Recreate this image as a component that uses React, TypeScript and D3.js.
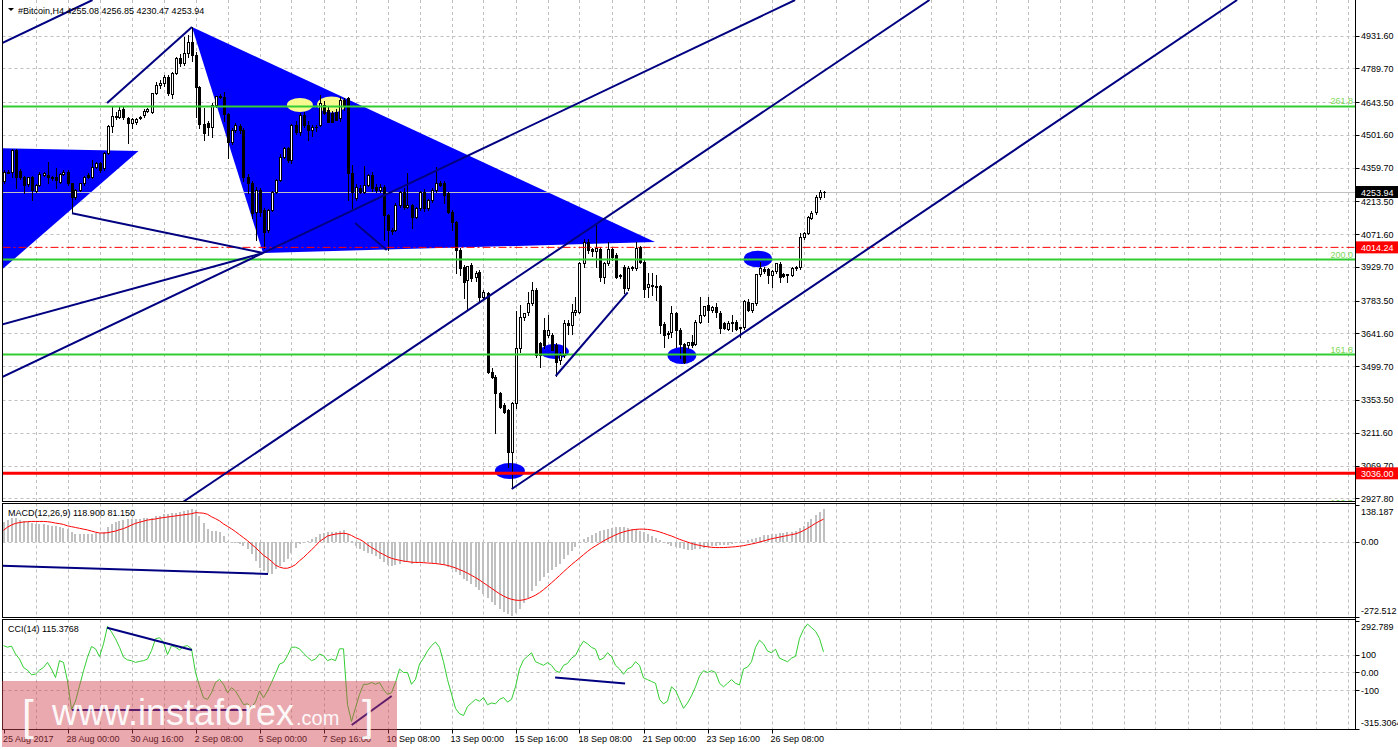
import React from 'react';
import * as d3 from 'd3';

const FONT = '"Liberation Sans", Arial, sans-serif';

// ---- categories / ticks ----
const dateBars = [0, 16, 32, 48, 64, 80, 96, 112, 128, 144, 160, 176, 192];
const dateTexts = ['25 Aug 2017', '28 Aug 00:00', '30 Aug 16:00', '2 Sep 08:00', '5 Sep 00:00', '7 Sep 16:00', '10 Sep 08:00', '13 Sep 00:00', '15 Sep 16:00', '18 Sep 08:00', '21 Sep 00:00', '23 Sep 16:00', '26 Sep 08:00'];
const priceTicks = [4931.6, 4789.7, 4643.5, 4501.6, 4359.7, 4213.5, 4071.6, 3929.7, 3783.5, 3641.6, 3499.7, 3353.5, 3211.6, 3069.7, 2927.8];
const macdTicks = [138.187, 0, -272.512];
const cciTicks = [292.789, 100, 0, -100, -315.3064];

// ---- candles: open, high, low, close ----
const ohlc: number[][] = [
[4300,4350,4295,4340],[4340,4350,4335,4342],[4340,4440,4320,4438],[4438,4442,4270,4320],[4345,4355,4310,4317],
[4320,4325,4248,4284],[4289,4320,4280,4317],[4317,4322,4219,4263],[4260,4290,4255,4284],[4284,4340,4280,4332],
[4328,4340,4325,4335],[4328,4385,4291,4317],[4317,4325,4305,4313],[4317,4356,4270,4306],[4299,4335,4295,4332],
[4332,4350,4328,4342],[4342,4350,4285,4291],[4291,4295,4162,4231],[4231,4265,4225,4263],[4263,4295,4258,4291],
[4291,4325,4285,4320],[4328,4335,4315,4320],[4320,4393,4315,4364],[4364,4385,4358,4378],[4378,4385,4340,4349],
[4356,4428,4350,4424],[4424,4545,4418,4540],[4540,4621,4515,4583],[4583,4600,4570,4580],[4580,4621,4575,4609],
[4612,4621,4570,4577],[4573,4580,4468,4554],[4554,4575,4530,4569],[4557,4575,4550,4571],[4575,4585,4570,4580],
[4587,4612,4580,4606],[4606,4618,4600,4612],[4602,4684,4595,4681],[4684,4732,4680,4717],[4716,4740,4705,4727],
[4724,4760,4715,4750],[4750,4760,4675,4681],[4678,4775,4660,4771],[4771,4840,4765,4833],[4833,4850,4800,4811],
[4811,4926,4805,4857],[4857,4935,4840,4905],[4905,4967,4820,4847],[4847,4860,4580,4710],[4710,4715,4530,4548],
[4548,4616,4479,4508],[4551,4560,4500,4534],[4534,4640,4490,4631],[4631,4670,4620,4670],[4670,4680,4660,4664],
[4667,4685,4560,4590],[4590,4595,4400,4472],[4472,4530,4460,4522],[4522,4552,4515,4544],[4540,4548,4510,4522],
[4522,4530,4300,4320],[4320,4330,4250,4292],[4292,4300,4140,4162],[4169,4275,4046,4263],[4263,4270,4150,4169],
[4176,4185,4010,4082],[4089,4180,4080,4176],[4176,4260,4170,4255],[4255,4310,4250,4306],[4306,4420,4300,4407],
[4407,4450,4400,4443],[4443,4450,4385,4393],[4393,4550,4380,4544],[4544,4560,4505,4515],[4515,4595,4500,4587],
[4587,4600,4535,4544],[4544,4560,4480,4522],[4522,4545,4495,4537],[4537,4545,4520,4535],[4544,4674,4540,4638],
[4630,4650,4590,4595],[4609,4620,4560,4559],[4595,4605,4560,4559],[4602,4615,4565,4566],[4573,4667,4560,4652],
[4652,4660,4610,4626],[4660,4665,4219,4335],[4335,4371,4183,4255],[4227,4290,4220,4277],[4270,4285,4250,4255],
[4255,4367,4250,4284],[4284,4330,4280,4328],[4328,4340,4260,4270],[4277,4290,4255,4263],[4263,4290,4255,4277],
[4277,4285,4046,4154],[4154,4160,4003,4089],[4089,4100,4070,4085],[4089,4205,4085,4198],[4198,4260,4190,4255],
[4255,4270,4180,4190],[4190,4335,4185,4198],[4198,4200,4097,4147],[4147,4190,4140,4183],[4183,4260,4175,4255],
[4255,4265,4170,4183],[4183,4225,4175,4219],[4219,4270,4210,4263],[4263,4364,4255,4292],[4292,4300,4280,4285],
[4291,4300,4205,4241],[4248,4255,4162,4169],[4169,4175,4089,4125],[4125,4130,3902,4003],[4003,4010,3894,3923],
[3931,3940,3794,3866],[3873,3934,3743,3934],[3938,3945,3870,3880],[3884,3910,3870,3905],[3909,3915,3780,3801],
[3801,3830,3795,3822],[3815,3822,3470,3476],[3476,3490,3450,3454],[3454,3460,3209,3382],[3382,3390,3320,3324],
[3332,3340,3295,3303],[3310,3315,3065,3130],[3130,3345,2972,3339],[3339,3740,3320,3577],[3577,3765,3560,3714],
[3714,3730,3700,3729],[3736,3822,3720,3772],[3772,3866,3765,3830],[3830,3840,3540,3548],[3599,3605,3498,3548],
[3656,3707,3580,3591],[3635,3721,3625,3656],[3635,3645,3570,3570],[3591,3600,3457,3519],[3527,3560,3510,3548],
[3548,3700,3540,3685],[3685,3700,3640,3678],[3678,3770,3640,3736],[3736,3801,3720,3743],[3736,3950,3730,3945],
[3945,4050,3930,4039],[4039,4050,3990,4003],[4006,4010,3975,4000],[4000,4118,3930,4010],[4006,4014,3870,3887],
[3887,3950,3860,3945],[3945,4039,3940,4006],[4006,4014,3960,3974],[3981,3990,3880,3887],[3890,3900,3880,3894],
[3931,3940,3815,3837],[3837,3935,3830,3923],[3923,3935,3915,3931],[3923,4039,3915,4010],[4014,4020,3945,3952],
[3952,3960,3800,3836],[3841,3902,3800,3856],[3851,3902,3808,3851],[3847,3895,3786,3847],[3847,3850,3642,3678],
[3682,3690,3584,3635],[3638,3650,3620,3644],[3649,3760,3628,3728],[3728,3735,3584,3656],[3656,3665,3534,3598],
[3598,3600,3512,3519],[3591,3606,3580,3606],[3606,3634,3585,3592],[3598,3700,3592,3692],[3692,3800,3685,3721],
[3721,3760,3715,3760],[3765,3800,3692,3743],[3743,3760,3735,3757],[3757,3772,3714,3736],[3731,3740,3642,3663],
[3685,3690,3660,3663],[3659,3695,3655,3688],[3688,3721,3650,3692],[3692,3700,3655,3660],[3663,3670,3627,3670],
[3670,3786,3660,3782],[3779,3790,3740,3743],[3743,3775,3735,3772],[3772,3900,3765,3899],[3899,3952,3890,3923],
[3920,3928,3905,3910],[3919,3925,3858,3895],[3895,3915,3841,3913],[3913,3945,3905,3945],[3942,3950,3865,3887],
[3897,3905,3885,3890],[3895,3900,3865,3897],[3895,3930,3890,3923],[3923,3935,3915,3928],[3928,4075,3920,4060],
[4060,4080,4050,4075],[4075,4150,4070,4144],[4140,4170,4135,4162],[4166,4240,4160,4234],[4234,4263,4225,4252],
[4255.08,4256.85,4230.47,4253.94]
];

// ---- MACD(12,26,9) main (histogram) ----
const macdMain = [
72,79,85,85,79,75,72,67,63,62, 62,61,57,55,52,50,47,36,28,28, 28,28,29,30,31,36,52,63,72,76,
80,81,82,82,82,84,85,87,91,93, 99,101,102,105,108,110,114,118,114,93, 69,45,40,38,33,21,2,-4,-7,-10,
-16,-28,-46,-70,-95,-107,-115,-119,-101,-88, -76,-64,-40,-22,-10,-1,2,8,15,27, 30,33,33,35,39,42,29,2,-16,-28,
-34,-40,-46,-52,-62,-76,-86,-88,-86,-82, -76,-76,-80,-79,-76,-75,-76,-78,-80,-82,
-85,-92,-100,-110,-122,-135,-145,-155,-165,-178, -190,-205,-218,-232,-245,-255,-265,-270,-260,-245,
-225,-205,-180,-160,-145,-130,-115,-102,-92,-80, -65,-50,-35,-20,-5,8,18,25,32,38,
42,47,50,52,54,52,50,47,45,40, 33,27,20,13,5,-3,-10,-15,-20,-24, -28,-30,-31,-29,-26,-23,-20,-17,-15,-14,
-13,-11,-9,-7,-5,0,4,8,13,18, 22,24,26,29,31,32,34,36,39,48, 58,70,82,96,108,118.9
];
// ---- MACD signal ----
const macdSignal = [
41,52,60,66,69,71,72,73,73,73, 73,72,70,67,65,62,57,54,51,48, 45,42,38,34,31,31,32,35,38,43,
47,53,60,66,70,74,78,80,82,85, 87,89,91,93,95,97,99,101,105,104, 103,99,90,83,75,64,55,46,36,25,
14,3,-10,-22,-36,-50,-60,-72,-86,-93, -97,-97,-92,-84,-70,-58,-44,-30,-16,0, 10,20,24,27,29,30,28,22,14,8,
0,-12,-22,-30,-40,-47,-55,-61,-65,-68, -71,-73,-75,-76,-76,-77,-78,-79,-80,-82,
-84,-87,-91,-96,-102,-108,-115,-123,-131,-140, -150,-160,-170,-180,-190,-198,-205,-210,-213,-214,
-212,-208,-202,-195,-186,-175,-163,-150,-137,-124, -110,-97,-84,-72,-60,-48,-36,-25,-16,-7,
2,10,17,24,30,35,39,42,44,45, 45,44,42,39,35,30,25,20,14,8, 3,-2,-7,-11,-14,-17,-19,-21,-22,-22,
-22,-21,-20,-19,-17,-15,-12,-9,-6,-2, 2,6,10,13,16,19,22,25,28,33, 40,48,57,66,74,81.15
];
// ---- CCI(14) ----
const cciValues = [
150,141,147,103,75,28,13,-13,-9,13, 28,56,19,-28,66,56,-47,-207,-160,-75, 9,85,145,132,88,160,258,226,188,141,
85,70,66,56,62,66,75,122,188,194, 169,100,150,141,126,145,150,132,0,-75, -141,-150,-113,-56,-38,-66,-113,-85,-103,-141,
-179,-175,-194,-164,-103,-141,-103,-56,-6,47, 56,94,141,141,132,107,85,66,75,103, 94,66,75,66,132,132,-179,-273,-197,-122,
-66,-66,-56,-66,-56,-94,-122,-113,-56,19, 0,0,-66,-38,47,80,120,150,170,140,
60,-40,-120,-200,-230,-240,-190,-170,-150,-160, -140,-180,-170,-175,-150,-140,-165,-150,-80,20,
70,90,110,60,50,40,55,40,10,0, 40,50,80,95,140,175,160,140,130,70,
80,110,90,40,20,-10,20,30,60,40, -30,-40,-50,-60,-150,-175,-160,-80,-100,-150, -200,-170,-130,-80,-20,10,0,10,0,-60,
-80,-60,-40,-60,-70,20,30,60,140,180, 160,120,110,130,80,70,60,80,90,190, 240,270,250,230,190,115.3768
];

// ---- chart objects (bar index, price) ----
const trendLines = [
  { b1: -0.875, p1: 4894.8, b2: 22.25, p2: 5085.3 },
  { b1: -0.875, p1: 3448.7, b2: 197.9, p2: 5085.3 },
  { b1: 44.85, p1: 2911.8, b2: 231.5, p2: 5085.3 },
  { b1: 127.05, p1: 2968, b2: 308.4, p2: 5085.3 },
  { b1: 25.9, p1: 4639.3, b2: 47.125, p2: 4968.4 },
  { b1: 17.125, p1: 4162, b2: 64.875, p2: 3989.9 },
  { b1: -0.875, p1: 3678.1, b2: 64.875, p2: 3989.9 },
  { b1: 87.875, p1: 4119.8, b2: 95.8, p2: 4002.9 },
  { b1: 138.05, p1: 3457.3, b2: 156.05, p2: 3819.7 },
];
const triangles = [
  [[47.125, 4968.4], [64.875, 3989.9], [162.875, 4037.5]],
  [[-3.375, 4444.5], [33.75, 4431.5], [-3.375, 3873]],
];
const yellowEllipses = [
  { b: 74.1, p: 4630.7, rb: 3.25, rp: 30 },
  { b: 82.0, p: 4632.8, rb: 3.6, rp: 35 },
];
const blueEllipses = [
  { b: 126.6, p: 3046, rb: 3.75, rp: 35 },
  { b: 137.75, p: 3563.4, rb: 3.6, rp: 32 },
  { b: 169.6, p: 3546, rb: 3.6, rp: 37 },
  { b: 188.6, p: 3963.9, rb: 3.6, rp: 36 },
];
const fibLabels = ['261.8', '200.0', '161.8', '100.0'];
const fibPrices = [4624.2, 3961.7, 3550.4, 2884];
const supportPrice = 3036.0;
const pivotPrice = 4014.24;
const bidPrice = 4253.94;
const macdLines = [{ b1: -0.375, v1: -88, b2: 66.125, v2: -118 }];
const cciLines = [
  { b1: 25.9, v1: 250, b2: 47.1, v2: 125 },
  { b1: 17.1, v1: -209, b2: 61.6, v2: -209 },
  { b1: 87.05, v1: -293, b2: 97.05, v2: -131 },
  { b1: 137.9, v1: -28, b2: 155.4, v2: -61 },
];

const NAVY = '#000080';
const BLUE = '#0000FF';
const GRID = '#c0c0c0';
const GREEN = '#32CD32';

export default function App() {
  const x = d3.scaleLinear().domain([0, 205]).range([3.5, 823.5]);
  const y = d3.scaleLinear().domain([2927.8, 4931.6]).range([498.3, 35.5]);
  const ym = d3.scaleLinear().domain([-272.512, 138.187]).range([616.5, 503.5]);
  const yc = d3.scaleLinear().domain([-315.3064, 292.789]).range([729, 620]);

  const L = 2.5, R = 1355.5;
  const mainTop = 0, mainBot = 501.5, macdTop = 503.5, macdBot = 617.5, cciTop = 619.5, cciBot = 729.5;

  const gridBars = d3.range(8, 337, 8);
  const signalPath = d3.line<number>().x((_, i) => x(i)).y((v) => ym(v))(macdSignal) || '';
  const cciPath = d3.line<number>().x((_, i) => x(i)).y((v) => yc(v))(cciValues) || '';

  const vgrid = (top: number, bot: number, key: string) =>
    gridBars.map((b) => (
      <line key={key + b} x1={Math.round(x(b)) + 0.5} x2={Math.round(x(b)) + 0.5} y1={top} y2={bot}
        stroke={GRID} strokeDasharray="3,3" />
    ));

  const axisText = { fontFamily: FONT, fontSize: 9, fill: '#000' } as const;

  return (
    <svg width={1398} height={750} style={{ position: 'absolute', left: 0, top: 0, background: '#fff' }}>
      <defs>
        <clipPath id="cMain"><rect x={L} y={mainTop} width={R - L} height={mainBot - mainTop} /></clipPath>
        <clipPath id="cMacd"><rect x={L} y={macdTop} width={R - L} height={macdBot - macdTop} /></clipPath>
        <clipPath id="cCci"><rect x={L} y={cciTop} width={R - L} height={cciBot - cciTop} /></clipPath>
      </defs>
      <rect x={0} y={0} width={1398} height={750} fill="#fff" />

      {/* ===== main panel ===== */}
      <g clipPath="url(#cMain)">
        {vgrid(mainTop, mainBot, 'mv')}
        {priceTicks.map((p) => (
          <line key={'mh' + p} x1={L} x2={R} y1={Math.round(y(p)) + 0.5} y2={Math.round(y(p)) + 0.5}
            stroke={GRID} strokeDasharray="3,3" />
        ))}
        {triangles.map((t, i) => (
          <polygon key={'tri' + i} points={t.map((d) => `${x(d[0])},${y(d[1])}`).join(' ')} fill={BLUE} />
        ))}
        {yellowEllipses.map((e, i) => (
          <ellipse key={'ye' + i} cx={x(e.b)} cy={y(e.p)} rx={x(e.b + e.rb) - x(e.b)} ry={y(e.p - e.rp) - y(e.p)} fill="#F8F890" />
        ))}
        {blueEllipses.map((e, i) => (
          <ellipse key={'be' + i} cx={x(e.b)} cy={y(e.p)} rx={x(e.b + e.rb) - x(e.b)} ry={y(e.p - e.rp) - y(e.p)} fill={BLUE} />
        ))}
        {/* bid line */}
        <line x1={L} x2={R} y1={Math.round(y(bidPrice)) + 0.5} y2={Math.round(y(bidPrice)) + 0.5} stroke="#c0c0c0" />
        {/* candles */}
        <g shapeRendering="crispEdges">
          {ohlc.map((c, i) => {
            const cx = Math.round(x(i));
            const [o, h, l, cl] = c;
            const up = cl >= o;
            const top = Math.round(y(Math.max(o, cl)));
            const bot = Math.round(y(Math.min(o, cl)));
            return (
              <g key={'c' + i}>
                <line x1={cx + 0.5} x2={cx + 0.5} y1={Math.round(y(h))} y2={Math.round(y(l)) + 1} stroke="#000" />
                {up ? (
                  <rect x={cx - 0.5} y={top + 0.5} width={2} height={Math.max(1, bot - top)} fill="#fff" stroke="#000" />
                ) : (
                  <rect x={cx - 1} y={top} width={3} height={Math.max(1, bot - top + 1)} fill="#000" />
                )}
              </g>
            );
          })}
        </g>
        {/* fib lines */}
        {fibPrices.map((p, i) => (
          <g key={'fib' + i}>
            <line x1={L} x2={R} y1={y(p)} y2={y(p)} stroke={GREEN} strokeWidth={2} />
            <text x={1353} y={y(p) - 2} textAnchor="end" fontFamily={FONT} fontSize={9} fill="#7ED957">{fibLabels[i]}</text>
          </g>
        ))}
        <line x1={L} x2={R} y1={y(pivotPrice)} y2={y(pivotPrice)} stroke="#ff0000" strokeDasharray="8,3,2,3" />
        <line x1={L} x2={R} y1={y(supportPrice)} y2={y(supportPrice)} stroke="#ff0000" strokeWidth={3} />
        {trendLines.map((t, i) => (
          <line key={'tl' + i} x1={x(t.b1)} y1={y(t.p1)} x2={x(t.b2)} y2={y(t.p2)} stroke={NAVY} strokeWidth={2} />
        ))}
      </g>

      {/* ===== MACD panel ===== */}
      <g clipPath="url(#cMacd)">
        {vgrid(macdTop, macdBot, 'dv')}
        <line x1={L} x2={R} y1={Math.round(ym(0)) + 0.5} y2={Math.round(ym(0)) + 0.5} stroke={GRID} strokeDasharray="3,3" />
        <g shapeRendering="crispEdges">
          {macdMain.map((v, i) => {
            const cx = Math.round(x(i));
            const y0 = ym(0), y1 = ym(v);
            return <rect key={'mh' + i} x={cx - 1} y={Math.min(y0, y1)} width={2} height={Math.max(1, Math.abs(y1 - y0))} fill="#c0c0c0" />;
          })}
        </g>
        <path d={signalPath} fill="none" stroke="#ff0000" strokeWidth={1} />
        {macdLines.map((t, i) => (
          <line key={'ml' + i} x1={x(t.b1)} y1={ym(t.v1)} x2={x(t.b2)} y2={ym(t.v2)} stroke={NAVY} strokeWidth={2} />
        ))}
      </g>

      {/* ===== CCI panel ===== */}
      <g clipPath="url(#cCci)">
        {vgrid(cciTop, cciBot, 'cv')}
        {[100, 0, -100].map((v) => (
          <line key={'ch' + v} x1={L} x2={R} y1={Math.round(yc(v)) + 0.5} y2={Math.round(yc(v)) + 0.5} stroke={GRID} strokeDasharray="3,3" />
        ))}
        <path d={cciPath} fill="none" stroke={GREEN} strokeWidth={1} />
        {cciLines.map((t, i) => (
          <line key={'cl' + i} x1={x(t.b1)} y1={yc(t.v1)} x2={x(t.b2)} y2={yc(t.v2)} stroke={NAVY} strokeWidth={2} />
        ))}
      </g>

      {/* frames */}
      <g fill="none" stroke="#000" shapeRendering="crispEdges">
        <line x1={L} x2={L} y1={0} y2={mainBot} />
        <line x1={L} x2={R} y1={mainBot} y2={mainBot} />
        <rect x={L} y={macdTop} width={R - L} height={macdBot - macdTop} />
        <rect x={L} y={cciTop} width={R - L} height={cciBot - cciTop} />
        <line x1={R} x2={R} y1={0} y2={cciBot} />
      </g>

      {/* price axis */}
      {priceTicks.map((p) => (
        <g key={'pt' + p}>
          <line x1={R} x2={R + 4} y1={Math.round(y(p)) + 0.5} y2={Math.round(y(p)) + 0.5} stroke="#000" />
          <text x={1361} y={y(p) + 3.5} {...axisText}>{p.toFixed(2)}</text>
        </g>
      ))}
      {[{ p: bidPrice, bg: '#000' }, { p: pivotPrice, bg: '#ff0000' }, { p: supportPrice, bg: '#ff0000' }].map((b) => (
        <g key={'box' + b.p}>
          <rect x={1356} y={y(b.p) - 6} width={42} height={12} fill={b.bg} />
          <text x={1361} y={y(b.p) + 3.5} fontFamily={FONT} fontSize={9} fill="#fff">{b.p.toFixed(2)}</text>
        </g>
      ))}

      {/* macd axis */}
      {macdTicks.map((v, i) => {
        const yy = i === 0 ? 511.7 : i === 2 ? 610 : ym(v);
        return (
          <g key={'mt' + i}>
            <line x1={R} x2={R + 4} y1={Math.round(i === 0 ? macdTop + 1 : i === 2 ? macdBot - 1 : ym(v)) + 0.5} y2={Math.round(i === 0 ? macdTop + 1 : i === 2 ? macdBot - 1 : ym(v)) + 0.5} stroke="#000" />
            <text x={1361} y={yy + 3.5} {...axisText}>{i === 0 ? '138.187' : i === 1 ? '0.00' : '-272.512'}</text>
          </g>
        );
      })}
      {/* cci axis */}
      {cciTicks.map((v, i) => {
        const yy = i === 0 ? 626.7 : i === 4 ? 722.7 : yc(v);
        const lbl = i === 0 ? '292.789' : i === 1 ? '100' : i === 2 ? '0.00' : i === 3 ? '-100' : '-315.3064';
        return (
          <g key={'ct' + i}>
            <line x1={R} x2={R + 4} y1={Math.round(i === 0 ? cciTop + 1 : i === 4 ? cciBot - 1 : yc(v)) + 0.5} y2={Math.round(i === 0 ? cciTop + 1 : i === 4 ? cciBot - 1 : yc(v)) + 0.5} stroke="#000" />
            <text x={1361} y={yy + 3.5} {...axisText}>{lbl}</text>
          </g>
        );
      })}

      {/* time axis */}
      {dateBars.map((b, i) => (
        <g key={'dt' + i}>
          <line x1={Math.round(x(b)) + 0.5} x2={Math.round(x(b)) + 0.5} y1={cciBot} y2={cciBot + 4} stroke="#000" />
          <text x={i === 0 ? 3 : x(b) - 1} y={742} {...axisText}>{dateTexts[i]}</text>
        </g>
      ))}

      {/* titles */}
      <path d="M8,8 L14,8 L11,11 Z" fill="#000" />
      <text x={18} y={14} {...axisText}>#Bitcoin,H4  4255.08 4256.85 4230.47 4253.94</text>
      <text x={8} y={516} {...axisText}>MACD(12,26,9) 118.900 81.150</text>
      <text x={8} y={632} {...axisText}>CCI(14) 115.3768</text>

      {/* watermark */}
      <rect x={2} y={681} width={395} height={66} fill="#d0404d" opacity={0.45} />
      <g fill="#fff" fontFamily={FONT} opacity={0.92}>
        <text x={22} y={730} fontSize={42} fontWeight={300}>[</text>
        <text x={52} y={725} fontSize={36}>www.instaforex</text>
        <text x={296} y={725} fontSize={20}>.com</text>
        <text x={362} y={730} fontSize={42} fontWeight={300}>]</text>
      </g>
    </svg>
  );
}
